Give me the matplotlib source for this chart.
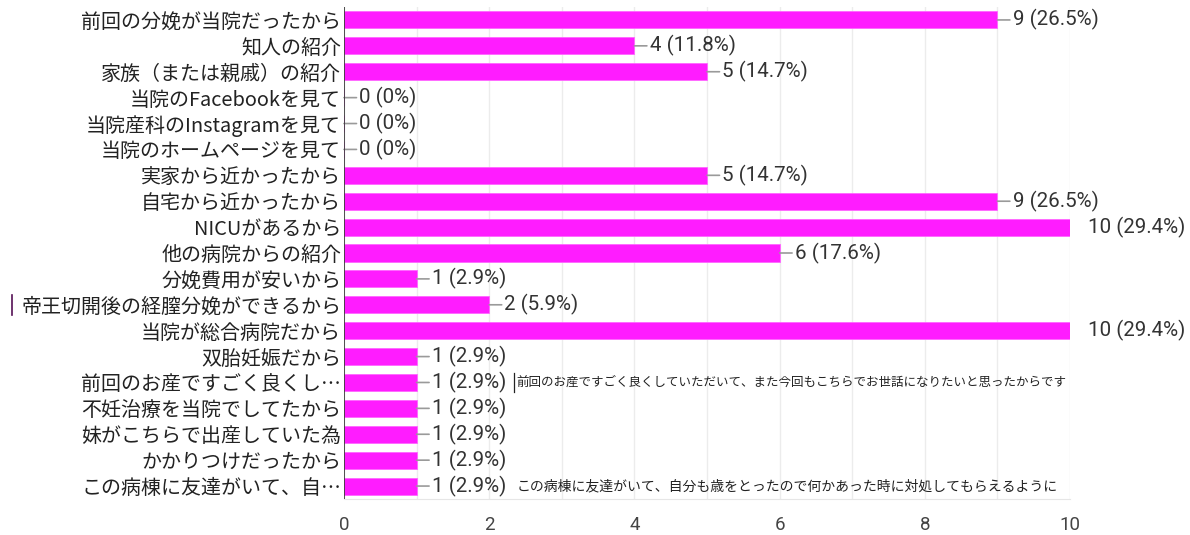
import matplotlib
matplotlib.use("Agg")
import matplotlib.pyplot as plt
from matplotlib.transforms import blended_transform_factory, offset_copy

plt.rcParams['font.family'] = ['Noto Sans CJK JP', 'DejaVu Sans']

categories = [
    "前回の分娩が当院だったから",
    "知人の紹介",
    "家族（または親戚）の紹介",
    "当院のFacebookを見て",
    "当院産科のInstagramを見て",
    "当院のホームページを見て",
    "実家から近かったから",
    "自宅から近かったから",
    "NICUがあるから",
    "他の病院からの紹介",
    "分娩費用が安いから",
    "帝王切開後の経膣分娩ができるから",
    "当院が総合病院だから",
    "双胎妊娠だから",
    "前回のお産ですごく良くし…",
    "不妊治療を当院でしてたから",
    "妹がこちらで出産していた為",
    "かかりつけだったから",
    "この病棟に友達がいて、自…",
]
counts = [9, 4, 5, 0, 0, 0, 5, 9, 10, 6, 1, 2, 10, 1, 1, 1, 1, 1, 1]
percents = ["26.5%", "11.8%", "14.7%", "0%", "0%", "0%", "14.7%", "26.5%", "29.4%",
            "17.6%", "2.9%", "5.9%", "29.4%", "2.9%", "2.9%", "2.9%", "2.9%", "2.9%", "2.9%"]
full_texts = {
    14: "前回のお産ですごく良くしていただいて、また今回もこちらでお世話になりたいと思ったからです",
    18: "この病棟に友達がいて、自分も歳をとったので何かあった時に対処してもらえるように",
}
full_text_sizes = {14: 9.0, 18: 10.0}
xticks = [0, 2, 4, 6, 8, 10]
xmax = 10

fig = plt.figure(figsize=(11.9, 5.35), dpi=100)
ax = fig.add_axes([344/1190, 1-499/535, (1070-344)/1190, (499-7)/535])

ypos = list(range(len(categories)))
ax.barh(ypos, counts, height=0.66, color='#ff1cff', edgecolor='#ff66ff', linewidth=0.6, zorder=3)

ax.set_xlim(0, xmax)
ax.set_ylim(len(categories) - 0.5, -0.5)
ax.set_yticks(ypos)
ax.set_yticklabels(categories, fontsize=14.4, color='#222222')
ax.set_xticks(xticks)
ax.set_xticklabels([str(t) for t in xticks], fontsize=13.5, color='#444444',
                   family=['Roboto', 'DejaVu Sans'])
ax.tick_params(axis='both', length=0)
ax.tick_params(axis='y', pad=2)
ax.tick_params(axis='x', pad=12)

for x in range(0, xmax + 1):
    ax.axvline(x, color='#ececec', linewidth=1, zorder=0)
ax.axvline(0, color='#333333', linewidth=1.2, zorder=4)

for s in ['top', 'right', 'left']:
    ax.spines[s].set_visible(False)
ax.spines['bottom'].set_color('#e6e6e6')

for i, (c, p) in enumerate(zip(counts, percents)):
    label = f"{c} ({p})"
    if c >= xmax:
        ax.annotate(label, xy=(c, i), xytext=(13, 0), textcoords='offset points',
                    va='center', ha='left', fontsize=14.8, color='#333333',
                    family=['Roboto', 'DejaVu Sans'], annotation_clip=False)
    else:
        ax.annotate(label, xy=(c, i), xytext=(11, 0), textcoords='offset points',
                    va='center', ha='left', fontsize=14.8, color='#333333',
                    family=['Roboto', 'DejaVu Sans'], annotation_clip=False,
                    arrowprops=dict(arrowstyle='-', color='#9a9a9a', lw=1.2,
                                    shrinkA=0, shrinkB=0))

for i, t in full_texts.items():
    ax.annotate(t, xy=(counts[i], i), xytext=(72, 0), textcoords='offset points',
                va='center', ha='left', fontsize=full_text_sizes[i], color='#222222',
                annotation_clip=False)

# cursor-like marks seen in the image
off = offset_copy(ax.transData, fig=fig, x=70, y=0, units='points')
ax.add_line(plt.Line2D([counts[14], counts[14]], [14 - 0.36, 14 + 0.36], transform=off,
                       color='#222222', lw=0.9, clip_on=False))
trans = blended_transform_factory(fig.transFigure, ax.transData)
fig.add_artist(plt.Line2D([12/1190, 12/1190], [11 - 0.38, 11 + 0.38], transform=trans,
                          color='#551155', lw=1.2))
fig.savefig("out.png", dpi=100)
